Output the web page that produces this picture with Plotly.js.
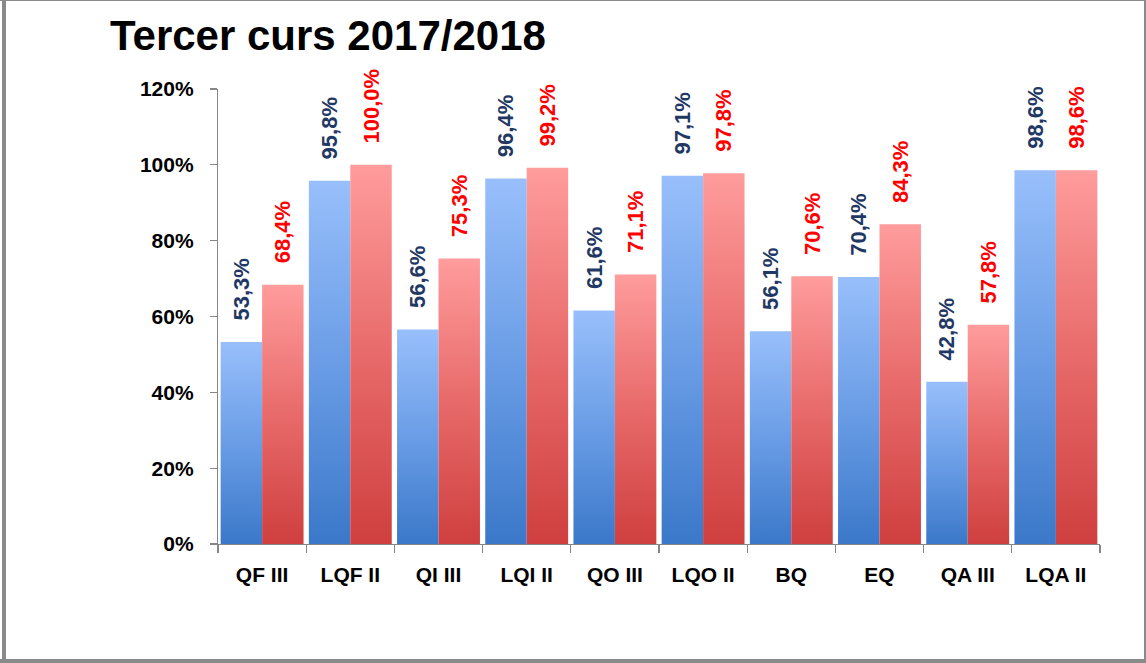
<!DOCTYPE html>
<html>
<head>
<meta charset="utf-8">
<script src="https://cdn.plot.ly/plotly-3.0.1.min.js"></script>
<style>
  html, body { margin: 0; padding: 0; background: #fff; }
  #wrap { position: relative; width: 1146px; height: 663px; overflow: hidden; }
  #chart { position: absolute; left: 0; top: 0; width: 1146px; height: 663px; }
  .fr { position: absolute; background: #8a8a8a; pointer-events: none; }
</style>
</head>
<body>
<div id="wrap">
  <div id="chart"></div>
  <div class="fr" style="left:2px;top:0;width:4px;height:663px;"></div>
  <div class="fr" style="left:0;top:0;width:1146px;height:1px;"></div>
  <div class="fr" style="left:1144px;top:0;width:2px;height:663px;"></div>
  <div class="fr" style="left:0;top:659px;width:1146px;height:4px;"></div>
</div>
<script>
// ---- data ----
const categories = ['QF III', 'LQF II', 'QI III', 'LQI II', 'QO III', 'LQO II', 'BQ', 'EQ', 'QA III', 'LQA II'];
const seriesBlue = [0.533, 0.958, 0.566, 0.964, 0.616, 0.971, 0.561, 0.704, 0.428, 0.986];
const seriesRed  = [0.684, 1.000, 0.753, 0.992, 0.711, 0.978, 0.706, 0.843, 0.578, 0.986];
const yTickVals  = [0, 0.2, 0.4, 0.6, 0.8, 1.0, 1.2];
const titleText  = 'Tercer curs 2017/2018';

const FONT = 'Liberation Sans, Arial, sans-serif';
const pad = '\u00a0\u00a0\u00a0';

const traces = [
  {
    type: 'bar', name: 'Sèrie 1', x: categories, y: seriesBlue,
    marker: { color: '#5b8fdc' },
    texttemplate: pad + '%{y:.1%}', textposition: 'outside', textangle: -90,
    constraintext: 'none', cliponaxis: false,
    outsidetextfont: { family: FONT, size: 22, color: '#1f3864', weight: 'bold' },
    hoverinfo: 'skip'
  },
  {
    type: 'bar', name: 'Sèrie 2', x: categories, y: seriesRed,
    marker: { color: '#e66a6a' },
    texttemplate: pad + '%{y:.1%}', textposition: 'outside', textangle: -90,
    constraintext: 'none', cliponaxis: false,
    outsidetextfont: { family: FONT, size: 22, color: '#ff0000', weight: 'bold' },
    hoverinfo: 'skip'
  }
];

const layout = {
  width: 1146, height: 663,
  margin: { l: 218, r: 46, t: 89, b: 119 },
  paper_bgcolor: '#ffffff', plot_bgcolor: '#ffffff',
  separators: ',.',
  showlegend: false,
  barmode: 'group', bargap: 0.06, bargroupgap: 0,
  font: { family: FONT, size: 21, color: '#000000', weight: 'bold' },
  title: {
    text: titleText,
    font: { family: FONT, size: 42, color: '#000000', weight: 'bold' },
    xref: 'container', x: 110 / 1146, xanchor: 'left',
    yref: 'container', y: 1 - 35 / 663, yanchor: 'middle'
  },
  xaxis: {
    type: 'category',
    showline: true, linecolor: '#868686', linewidth: 1.2,
    ticks: 'outside', tickson: 'boundaries', ticklen: 8, tickcolor: '#868686', tickwidth: 1.2,
    showgrid: false, zeroline: false,
    tickfont: { family: FONT, size: 21, color: '#000000', weight: 'bold' },
    ticklabelstandoff: 12
  },
  yaxis: {
    range: [0, 1.2], tickvals: yTickVals, tickformat: '.0%',
    showline: true, linecolor: '#868686', linewidth: 1.2,
    ticks: 'outside', ticklen: 7, tickcolor: '#868686', tickwidth: 1.2,
    showgrid: false, zeroline: false,
    tickfont: { family: FONT, size: 21, color: '#000000', weight: 'bold' },
    ticklabelstandoff: 12
  }
};

function addGradients(gd) {
  const svg = gd.querySelector('svg.main-svg');
  const ns = 'http://www.w3.org/2000/svg';
  let defs = svg.querySelector('defs');
  if (!defs) { defs = document.createElementNS(ns, 'defs'); svg.insertBefore(defs, svg.firstChild); }
  function grad(id, stops) {
    const g = document.createElementNS(ns, 'linearGradient');
    g.setAttribute('id', id);
    g.setAttribute('x1', '0'); g.setAttribute('y1', '0');
    g.setAttribute('x2', '0'); g.setAttribute('y2', '1');
    stops.forEach(s => {
      const st = document.createElementNS(ns, 'stop');
      st.setAttribute('offset', s[0]);
      st.setAttribute('stop-color', s[1]);
      g.appendChild(st);
    });
    defs.appendChild(g);
  }
  grad('gBlue', [['0', '#98bffb'], ['0.5', '#6a9de6'], ['1', '#3b78c9']]);
  grad('gRed', [['0', '#ff9c9c'], ['0.5', '#e86a6a'], ['1', '#cf3f3f']]);
  const tr = gd.querySelectorAll('.barlayer .trace.bars');
  const ids = ['gBlue', 'gRed'];
  tr.forEach((t, i) => {
    t.querySelectorAll('.point path').forEach(p => {
      p.style.fill = 'url(#' + ids[i] + ')';
    });
  });
}

Plotly.newPlot('chart', traces, layout, { staticPlot: true, displayModeBar: false })
  .then(gd => addGradients(gd));
</script>
</body>
</html>
